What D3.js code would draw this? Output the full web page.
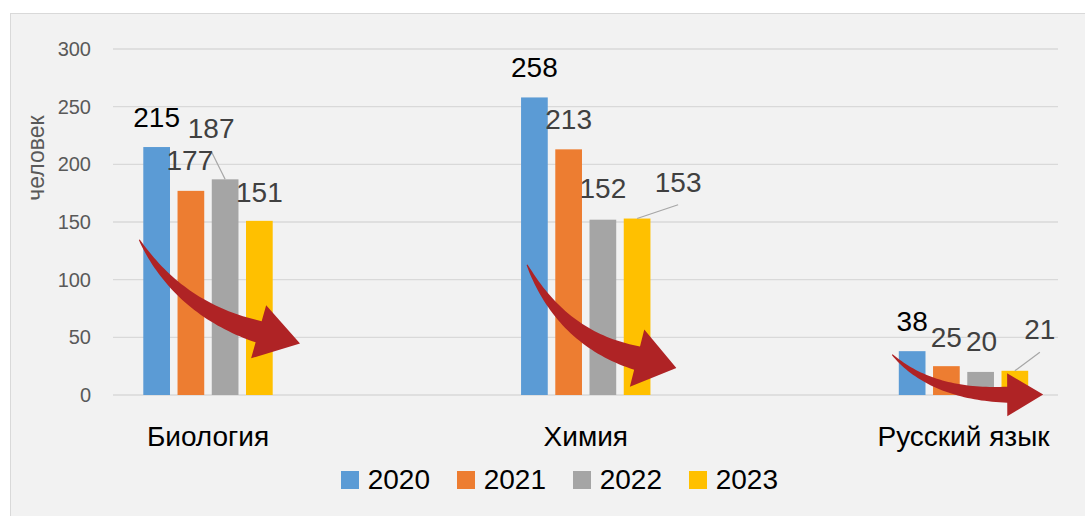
<!DOCTYPE html>
<html>
<head>
<meta charset="utf-8">
<script src="https://cdn.jsdelivr.net/npm/d3@7/dist/d3.min.js"></script>
<style>
  html, body { margin: 0; padding: 0; background: #ffffff; }
  svg { display: block; }
  text { font-family: "Liberation Sans", Arial, sans-serif; }
</style>
</head>
<body>
<svg id="chart" width="1085" height="516"></svg>
<script>
// ---- data ----
const categories = ["Биология", "Химия", "Русский язык"];
const years = ["2020", "2021", "2022", "2023"];
const values2020 = [215, 258, 38];
const values2021 = [177, 213, 25];
const values2022 = [187, 152, 20];
const values2023 = [151, 153, 21];
const yTicks = [0, 50, 100, 150, 200, 250, 300];
const yTitle = "человек";

// ---- layout / styles ----
const colors = ["#5b9bd5", "#ed7d31", "#a5a5a5", "#ffc000"];
const labelColors = ["#000000", "#404040", "#404040", "#404040"];
// label offsets [dx, dy(baseline from bar top), leader?] per category, per year
const labelOffsets = [
  [[0, -20, 0], [-1, -21, 0], [-14, -41.3, 1], [0, -19.2, 0]],
  [[0, -20, 0], [0, -20, 0], [0, -21.4, 0], [41, -26.8, 1]],
  [[0, -20.5, 0], [0, -19.5, 0], [1, -21, 0], [25, -31.5, 1]]
];
// trend arrows: offsets in px from the group's left edge, vertical positions in data units
const arrows = [
  { cat: 0, tail: [-4, 134.6], ctrl: [35.9, 74.4], tip: [156.7, 44.6], headLen: 43, headW: 55, w: 22 },
  { cat: 1, tail: [6, 113], ctrl: [41.5, 48.3], tip: [155.3, 23.5], headLen: 40.5, headW: 59, w: 24 },
  { cat: 2, tail: [-6.6, 35], ctrl: [33.4, 0], tip: [144.4, 0.4], headLen: 36, headW: 43, w: 16 }
];

const series = [values2020, values2021, values2022, values2023];

const svg = d3.select("#chart");

// chart area background
svg.append("rect")
  .attr("x", 10.5).attr("y", 13.5)
  .attr("width", 1100).attr("height", 530)
  .attr("fill", "#f2f2f2").attr("stroke", "#d9d9d9").attr("stroke-width", 1);

const y = d3.scaleLinear().domain([0, 300]).range([395, 49]);
const x0 = d3.scalePoint().domain(categories).range([208, 963.5]);
const x1 = d3.scaleBand().domain(years).range([-64.7, 64.7]).paddingInner(0.22).paddingOuter(0);

const plotLeft = 113, plotRight = 1058;

// gridlines
svg.append("g").selectAll("line").data(yTicks).join("line")
  .attr("x1", plotLeft).attr("x2", plotRight)
  .attr("y1", d => y(d)).attr("y2", d => y(d))
  .attr("stroke", "#d9d9d9").attr("stroke-width", 1.3);

// y axis tick labels
svg.append("g").selectAll("text").data(yTicks).join("text")
  .attr("x", 91).attr("y", d => y(d))
  .attr("text-anchor", "end").attr("dominant-baseline", "central")
  .attr("font-size", 20).attr("fill", "#595959")
  .text(d => d);

// y title
svg.append("text")
  .attr("transform", "translate(36,158) rotate(-90)")
  .attr("text-anchor", "middle").attr("dominant-baseline", "central")
  .attr("font-size", 23).attr("fill", "#595959")
  .text(yTitle);

// bars
const barData = [];
categories.forEach((c, ci) => {
  years.forEach((yr, si) => {
    barData.push({ c, ci, yr, si, v: series[si][ci] });
  });
});

svg.append("g").selectAll("rect").data(barData).join("rect")
  .attr("x", d => x0(d.c) + x1(d.yr))
  .attr("y", d => y(d.v))
  .attr("width", x1.bandwidth())
  .attr("height", d => y(0) - y(d.v))
  .attr("fill", d => colors[d.si]);

// leader lines
const lblPos = d => {
  const o = labelOffsets[d.ci][d.si];
  const cx = x0(d.c) + x1(d.yr) + x1.bandwidth() / 2;
  return { x: cx + o[0], y: y(d.v) + o[1], leader: o[2], bx: cx, by: y(d.v) };
};
svg.append("g").selectAll("line").data(barData.filter(d => labelOffsets[d.ci][d.si][2])).join("line")
  .attr("x1", d => lblPos(d).bx).attr("y1", d => lblPos(d).by)
  .attr("x2", d => lblPos(d).x).attr("y2", d => lblPos(d).y + 13)
  .attr("stroke", "#a6a6a6").attr("stroke-width", 1.2);

// data labels
svg.append("g").selectAll("text").data(barData).join("text")
  .attr("x", d => lblPos(d).x).attr("y", d => lblPos(d).y)
  .attr("text-anchor", "middle")
  .attr("font-size", 28).attr("fill", d => labelColors[d.si])
  .text(d => d.v);

// category labels
svg.append("g").selectAll("text").data(categories).join("text")
  .attr("x", d => x0(d)).attr("y", 446)
  .attr("text-anchor", "middle")
  .attr("font-size", 28).attr("fill", "#000")
  .text(d => d);

// arrows
function arrowPath(a) {
  const gx = x0(categories[a.cat]) + x1(years[0]);
  const P0 = [gx + a.tail[0], y(a.tail[1])];
  const C = [gx + a.ctrl[0], y(a.ctrl[1])];
  const T = [gx + a.tip[0], y(a.tip[1])];
  let dx = T[0] - C[0], dy = T[1] - C[1];
  const L = Math.hypot(dx, dy); dx /= L; dy /= L;
  const B = [T[0] - a.headLen * dx, T[1] - a.headLen * dy];
  const up = [], lo = [];
  const N = 40;
  for (let i = 0; i <= N; i++) {
    const t = i / N;
    const px = (1 - t) * (1 - t) * P0[0] + 2 * (1 - t) * t * C[0] + t * t * B[0];
    const py = (1 - t) * (1 - t) * P0[1] + 2 * (1 - t) * t * C[1] + t * t * B[1];
    let tx = 2 * (1 - t) * (C[0] - P0[0]) + 2 * t * (B[0] - C[0]);
    let ty = 2 * (1 - t) * (C[1] - P0[1]) + 2 * t * (B[1] - C[1]);
    const tl = Math.hypot(tx, ty); tx /= tl; ty /= tl;
    const nx = -ty, ny = tx;
    const hw = (1 + (a.w - 1) * Math.pow(t, 0.85)) / 2;
    up.push([px + nx * hw, py + ny * hw]);
    lo.push([px - nx * hw, py - ny * hw]);
  }
  const nx = -dy, ny = dx;
  const pts = up.concat([
    [B[0] + nx * a.headW / 2, B[1] + ny * a.headW / 2],
    T,
    [B[0] - nx * a.headW / 2, B[1] - ny * a.headW / 2]
  ]).concat(lo.reverse());
  return "M" + pts.map(p => p[0].toFixed(2) + "," + p[1].toFixed(2)).join("L") + "Z";
}
svg.append("g").selectAll("path").data(arrows).join("path")
  .attr("d", arrowPath)
  .attr("fill", "#af2325");

// legend
const legend = svg.append("g").selectAll("g").data(years).join("g")
  .attr("transform", (d, i) => `translate(${341 + i * 116},0)`);
legend.append("rect")
  .attr("x", 0).attr("y", 471).attr("width", 18).attr("height", 18)
  .attr("fill", (d, i) => colors[i]);
legend.append("text")
  .attr("x", 26.7).attr("y", 489.3)
  .attr("font-size", 28).attr("fill", "#000")
  .text(d => d);
</script>
</body>
</html>
